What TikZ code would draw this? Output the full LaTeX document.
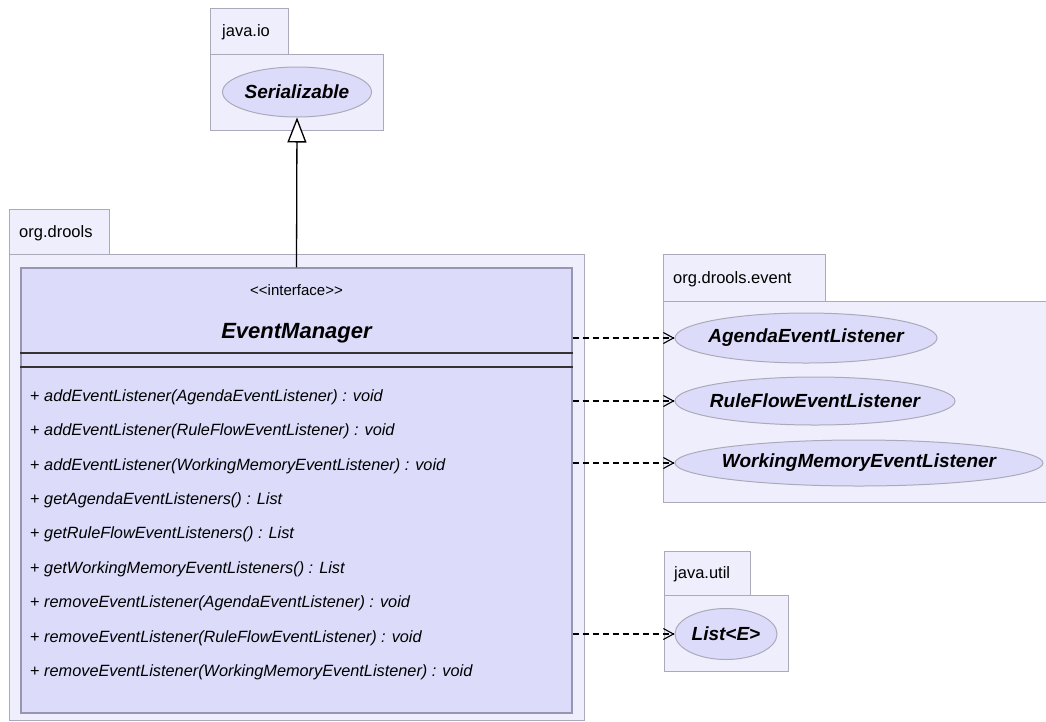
\documentclass[tikz,border=0pt]{standalone}
\usepackage{fontspec}
\setmainfont{Liberation Sans}
\usetikzlibrary{shapes.geometric,arrows.meta}

\definecolor{pkgfill}{RGB}{238,238,252}
\definecolor{pkgline}{RGB}{170,170,186}
\definecolor{clsfill}{RGB}{220,220,250}
\definecolor{clsline}{RGB}{150,150,178}

\tikzset{
  pkg/.style={draw=pkgline, fill=pkgfill, line width=1pt},
  pkglabel/.style={anchor=west, inner sep=0, font=\fontsize{16.5}{16.5}\selectfont},
  iface/.style={ellipse, draw=pkgline, fill=clsfill, line width=1pt, inner sep=0,
    font=\fontsize{19}{19}\selectfont\bfseries\itshape},
  method/.style={anchor=west, inner sep=0, font=\fontsize{16.3}{16.3}\selectfont},
  dep/.style={black, line width=1.1pt, dash pattern=on 6pt off 4pt,
    -{Straight Barb[length=10pt, width=11pt]}},
  gen/.style={black, line width=1.3pt, -{Triangle[length=25pt, width=19pt, fill=white]}}
}

\begin{document}
\begin{tikzpicture}[x=1pt, y=-1pt]
\useasboundingbox (0,0) rectangle (1046,721);

% Paquete java.io
\draw[pkg] (210,8) rectangle (288,54);
\draw[pkg] (210,54) rectangle (383,130);
\node[pkglabel] (javaio) at (222,32) {java.io};

% Paquete org.drools
\draw[pkg] (9,209) rectangle (109,254);
\draw[pkg] (9,254) rectangle (584,720);
\node[pkglabel] (drools) at (19,233) {org.drools};

% Paquete org.drools.event
\draw[pkg] (663,254) rectangle (825,301);
\draw[pkg] (663,301) rectangle (1050,502);
\node[pkglabel] (event) at (673,279) {org.drools.event};

% Paquete java.util
\draw[pkg] (664,551) rectangle (750,595);
\draw[pkg] (664,595) rectangle (788,671);
\node[pkglabel] (util) at (674,574) {java.util};

% Interfaces
\node[iface, minimum width=149pt, minimum height=50pt] (ser) at (297,92)
  {\makebox[0pt]{Serializable}};
\node[iface, minimum width=262pt, minimum height=50pt] (ag) at (806,338)
  {\makebox[0pt]{AgendaEventListener}};
\node[iface, minimum width=280pt, minimum height=48pt] (rf) at (815,401)
  {\makebox[0pt]{RuleFlowEventListener}};
\node[iface, minimum width=368pt, minimum height=46pt] (wm) at (859,463)
  {\makebox[0pt]{WorkingMemoryEventListener}};
\node[iface, minimum width=102pt, minimum height=51pt] (lst) at (726,634)
  {\makebox[0pt]{List<E>}};

% Clase EventManager
\node[draw=clsline, fill=clsfill, line width=1.2pt, minimum width=551pt,
  minimum height=445pt, inner sep=0] (em) at (296.5,490.5) {};
\node[font=\fontsize{15}{15}\selectfont] (stereo) at (296.5,290) {{<}{<}interface{>}{>}};
\node[font=\fontsize{22}{22}\selectfont\bfseries\itshape] (name) at (296.5,333) {EventManager};
\draw[black!80, line width=1.3pt] (em.west |- 0,353) -- (em.east |- 0,353);
\draw[black!80, line width=1.3pt] (em.west |- 0,367) -- (em.east |- 0,367);

% Metodos
\foreach \m [count=\i] in {addEventListener(AgendaEventListener) : void,
    addEventListener(RuleFlowEventListener) : void,
    addEventListener(WorkingMemoryEventListener) : void,
    getAgendaEventListeners() : List,
    getRuleFlowEventListeners() : List,
    getWorkingMemoryEventListeners() : List,
    removeEventListener(AgendaEventListener) : void,
    removeEventListener(RuleFlowEventListener) : void,
    removeEventListener(WorkingMemoryEventListener) : void}
  \node[method] (m\i) at (30,{397+(\i-1)*34.4}) {+ \textit{\m}};

% Herencia
\draw[gen] (em.north) -- (ser.south);

% Dependencias
\draw[dep] (em.east |- ag.west) -- (ag.west);
\draw[dep] (em.east |- rf.west) -- (rf.west);
\draw[dep] (em.east |- wm.west) -- (wm.west);
\draw[dep] (em.east |- lst.west) -- (lst.west);

\end{tikzpicture}
\end{document}
